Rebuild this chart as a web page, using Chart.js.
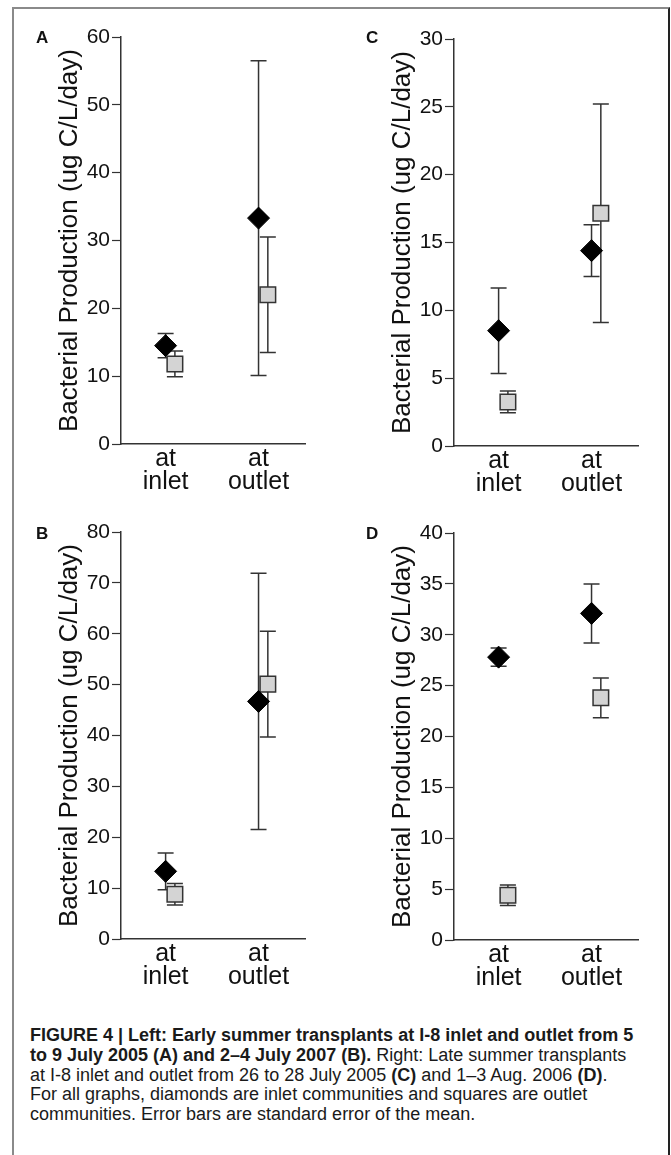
<!DOCTYPE html>
<html>
<head>
<meta charset="utf-8">
<script src="https://cdn.jsdelivr.net/npm/chart.js@4.4.0/dist/chart.umd.min.js"></script>
<style>
  body { margin: 0; background: #fff; width: 671px; height: 1155px; position: relative; overflow: hidden;
         font-family: "Liberation Sans", Arial, sans-serif; color: #111; }
  #frame { position: absolute; left: 12px; top: 7px; width: 654px; height: 1148px;
           border-left: 2px solid #8a8a8a; border-top: 2px solid #8a8a8a; border-right: 2px solid #222; }
  .panel { position: absolute; }
  .letter { position: absolute; font-weight: bold; font-size: 17px; line-height: 17px; }
  #caption { position: absolute; left: 30px; top: 1026px; font-size: 18px; line-height: 19.8px; white-space: nowrap; color: #1a1a1a; }
</style>
</head>
<body>
<div id="frame"></div>

<canvas id="chartA" class="panel" width="320" height="485" style="left:15px;top:10px"></canvas>
<canvas id="chartC" class="panel" width="320" height="485" style="left:348px;top:12px"></canvas>
<canvas id="chartB" class="panel" width="320" height="485" style="left:15px;top:505px"></canvas>
<canvas id="chartD" class="panel" width="320" height="485" style="left:348px;top:506px"></canvas>

<div class="letter" style="left:36px;top:29px">A</div>
<div class="letter" style="left:366px;top:29px">C</div>
<div class="letter" style="left:36px;top:525px">B</div>
<div class="letter" style="left:366px;top:525px">D</div>

<div id="caption">
<b>FIGURE 4 | Left: Early summer transplants at I-8 inlet and outlet from 5</b><br>
<b>to 9 July 2005 (A) and 2–4 July 2007 (B).</b> Right: Late summer transplants<br>
at I-8 inlet and outlet from 26 to 28 July 2005 <b>(C)</b> and 1–3 Aug. 2006 <b>(D)</b>.<br>
For all graphs, diamonds are inlet communities and squares are outlet<br>
communities. Error bars are standard error of the mean.
</div>

<script>
// categories on the x axis (inlet = 1, outlet = 2)
const categories = [['at', 'inlet'], ['at', 'outlet']];
const catPos = [1, 2];
const squareShift = 0.1;

// panel A: 5-9 July 2005
const diamondsA = [14.5, 33.3];
const diamondErrA = [1.8, 23.2];
const squaresA = [11.8, 22.0];
const squareErrA = [1.9, 8.5];
const yTicksA = [0, 10, 20, 30, 40, 50, 60];

// panel B: 2-4 July 2007
const diamondsB = [13.3, 46.7];
const diamondErrB = [3.6, 25.2];
const squaresB = [8.8, 50.1];
const squareErrB = [2.1, 10.4];
const yTicksB = [0, 10, 20, 30, 40, 50, 60, 70, 80];

// panel C: 26-28 July 2005
const diamondsC = [8.5, 14.4];
const diamondErrC = [3.15, 1.9];
const squaresC = [3.25, 17.15];
const squareErrC = [0.8, 8.05];
const yTicksC = [0, 5, 10, 15, 20, 25, 30];

// panel D: 1-3 Aug 2006
const diamondsD = [27.8, 32.1];
const diamondErrD = [0.9, 2.9];
const squaresD = [4.4, 23.8];
const squareErrD = [1.0, 1.95];
const yTicksD = [0, 5, 10, 15, 20, 25, 30, 35, 40];

Chart.defaults.font.family = '"Liberation Sans", Arial, sans-serif';
Chart.defaults.color = '#111';

// vertical error bars with caps, drawn under the markers
const errorBars = {
  id: 'errorBars',
  beforeDatasetsDraw(chart) {
    const { ctx, scales: { x, y } } = chart;
    ctx.save();
    ctx.strokeStyle = '#333';
    ctx.lineWidth = 1.5;
    chart.data.datasets.forEach(ds => {
      ds.data.forEach((pt, i) => {
        const px = x.getPixelForValue(pt.x);
        const top = y.getPixelForValue(pt.y + ds.errors[i]);
        const bot = y.getPixelForValue(pt.y - ds.errors[i]);
        ctx.beginPath();
        ctx.moveTo(px, top); ctx.lineTo(px, bot);
        ctx.moveTo(px - 8, top); ctx.lineTo(px + 8, top);
        ctx.moveTo(px - 8, bot); ctx.lineTo(px + 8, bot);
        ctx.stroke();
      });
    });
    ctx.restore();
  }
};

function makeChart(id, diamonds, diamondErr, squares, squareErr, yTicks) {
  return new Chart(document.getElementById(id), {
    type: 'scatter',
    data: {
      datasets: [
        {
          data: diamonds.map((v, i) => ({ x: catPos[i], y: v })),
          errors: diamondErr,
          pointStyle: 'rectRot',
          radius: 11,
          backgroundColor: '#000',
          borderColor: '#000',
          borderWidth: 1
        },
        {
          data: squares.map((v, i) => ({ x: catPos[i] + squareShift, y: v })),
          errors: squareErr,
          pointStyle: 'rect',
          radius: 11,
          backgroundColor: '#d4d4d4',
          borderColor: '#333',
          borderWidth: 1.5
        }
      ]
    },
    options: {
      responsive: false,
      animation: false,
      events: [],
      layout: { autoPadding: false, padding: { top: 27, right: 30, bottom: 0, left: 0 } },
      plugins: { legend: { display: false }, tooltip: { enabled: false } },
      scales: {
        x: {
          type: 'linear',
          min: 0.52,
          max: 2.5,
          afterBuildTicks: s => { s.ticks = catPos.map(v => ({ value: v })); },
          afterFit: s => { s.height = 51; },
          grid: { display: false, drawTicks: false },
          border: { color: '#333', width: 1.5 },
          ticks: {
            callback: v => categories[catPos.indexOf(v)],
            font: { size: 25, lineHeight: 0.92 },
            color: '#111',
            padding: 4,
            maxRotation: 0,
            autoSkip: false
          }
        },
        y: {
          min: 0,
          max: yTicks[yTicks.length - 1],
          afterBuildTicks: s => { s.ticks = yTicks.map(v => ({ value: v })); },
          afterFit: s => { s.width = 106; },
          grid: { drawOnChartArea: false, tickLength: 9, tickColor: '#333', tickWidth: 1.2 },
          border: { color: '#333', width: 1.5 },
          ticks: { font: { size: 21 }, color: '#111', padding: 2 },
          title: {
            display: true,
            text: 'Bacterial Production (ug C/L/day)',
            font: { size: 26 },
            color: '#111',
            padding: { top: 39, bottom: 0 }
          }
        }
      }
    },
    plugins: [errorBars]
  });
}

makeChart('chartA', diamondsA, diamondErrA, squaresA, squareErrA, yTicksA);
makeChart('chartB', diamondsB, diamondErrB, squaresB, squareErrB, yTicksB);
makeChart('chartC', diamondsC, diamondErrC, squaresC, squareErrC, yTicksC);
makeChart('chartD', diamondsD, diamondErrD, squaresD, squareErrD, yTicksD);
</script>
</body>
</html>
